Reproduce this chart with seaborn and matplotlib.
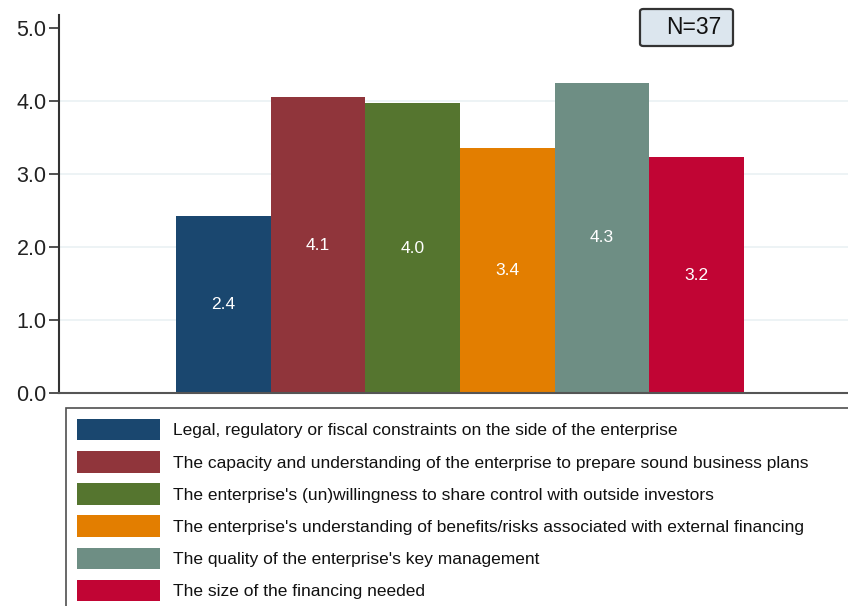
import matplotlib
matplotlib.use("Agg")
import matplotlib.pyplot as plt
from matplotlib.patches import FancyBboxPatch
import seaborn as sns
import pandas as pd

# constraint categories and mean scores
categories = [
    "Legal, regulatory or fiscal constraints on the side of the enterprise",
    "The capacity and understanding of the enterprise to prepare sound business plans",
    "The enterprise's (un)willingness to share control with outside investors",
    "The enterprise's understanding of benefits/risks associated with external financing",
    "The quality of the enterprise's key management",
    "The size of the financing needed",
]
scores = [2.42, 4.05, 3.97, 3.36, 4.25, 3.23]
bar_labels = ["2.4", "4.1", "4.0", "3.4", "4.3", "3.2"]
colors = ["#1a476f", "#90353b", "#55752f", "#e37e00", "#6e8e84", "#c10534"]
n_label = "N=37"

df = pd.DataFrame({"category": categories, "score": scores})

sns.set_style("white")
plt.rcParams["font.family"] = ["Liberation Sans", "DejaVu Sans"]

W, H = 848, 606
fig = plt.figure(figsize=(W / 100, H / 100), dpi=100)
ax = fig.add_axes([59 / W, 1 - 393 / H, (W - 59) / W, (393 - 15) / H])

sns.barplot(data=df, x="category", y="score", hue="category",
            palette=colors, saturation=1, width=1.0, linewidth=0,
            legend=False, ax=ax)

for cont, lab in zip(ax.containers, bar_labels):
    ax.bar_label(cont, labels=[lab], label_type="center", color="white",
                 fontsize=12.5)

ax.set_xlim(-1.735, 6.6)
ax.set_ylim(0, 5.18)
ax.set_xticks([])
ax.set_xlabel("")
ax.set_ylabel("")
ax.set_yticks([0, 1, 2, 3, 4, 5])
ax.set_yticklabels(["%.1f" % v for v in [0, 1, 2, 3, 4, 5]], fontsize=15.5,
                   color="#222222")
ax.tick_params(axis="y", direction="out", length=7, width=1.2,
               color="#333333", pad=2, left=True)

ax.set_axisbelow(True)
ax.yaxis.grid(True, color="#eaf1f3", linewidth=1.2)
ax.yaxis.get_gridlines()[-1].set_visible(False)
ax.yaxis.get_gridlines()[0].set_visible(False)

for s in ["top", "right"]:
    ax.spines[s].set_visible(False)
ax.spines["left"].set_color("#333333")
ax.spines["left"].set_linewidth(1.5)
ax.spines["bottom"].set_color("#555555")
ax.spines["bottom"].set_linewidth(1.5)

# N annotation box
box = FancyBboxPatch((640 / W, 1 - 46 / H), 93 / W, 37 / H,
                     boxstyle="round,pad=0,rounding_size=0.004",
                     transform=fig.transFigure, facecolor="#dce6ee",
                     edgecolor="#333333", linewidth=1.6)
fig.add_artist(box)
fig.text(694 / W, 1 - 28 / H, n_label, ha="center", va="center",
         fontsize=16.5, color="#111111")

# legend below the plot
handles = [c.patches[0] for c in ax.containers]
leg = fig.legend(handles, categories, loc="upper left",
                 bbox_to_anchor=(66 / W, 1 - 408 / H, 800 / W, 0),
                 mode="expand", ncol=1, frameon=True, fancybox=False,
                 fontsize=12.5, handlelength=4.77, handleheight=1.52,
                 handletextpad=0.75, labelspacing=0.62, borderpad=0.63,
                 borderaxespad=0)
leg.get_frame().set_edgecolor("#222222")
leg.get_frame().set_linewidth(1.2)
for t in leg.get_texts():
    t.set_color("#111111")

fig.savefig("out.png", dpi=100)
